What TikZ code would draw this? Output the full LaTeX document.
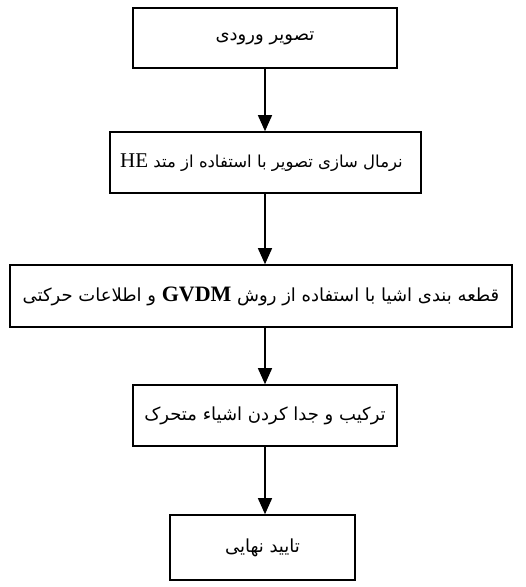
\documentclass[tikz,border=0pt]{standalone}
\usepackage{fontspec}
\usetikzlibrary{arrows.meta}
\TeXXeTstate=1
\newfontfamily\arabicfont[Script=Arabic]{DejaVu Sans}
\newfontfamily\latinfont{Liberation Serif}
\tikzset{
  stepbox/.style={draw=black, line width=1.6pt, rectangle, inner sep=0pt,
    font=\arabicfont\fontsize{18}{21}\selectfont},
  flow/.style={line width=1.3pt, -{Triangle[length=16pt,width=14pt]}}
}
\begin{document}
\begin{tikzpicture}[x=1pt,y=-1pt]
\useasboundingbox (0,0) rectangle (526,587);
\node[stepbox, minimum width=264pt, minimum height=60pt] (b1) at (265,38)
  {\beginR تصویر ورودی\endR};
\node[stepbox, minimum width=311pt, minimum height=61pt] (b2) at (265.5,162.5) {};
\node[font=\arabicfont\fontsize{16.5}{20}\selectfont, inner sep=0pt] (t2) at (261.5,162.5)
  {\beginR نرمال سازی تصویر با استفاده از متد \beginL{\latinfont\fontsize{21}{24}\selectfont HE}\endL\endR};
\node[stepbox, minimum width=502pt, minimum height=62pt] (b3) at (261,296)
  {\beginR قطعه بندی اشیا با استفاده از روش \beginL{\latinfont\bfseries\fontsize{22}{24}\selectfont GVDM}\endL{} و اطلاعات حرکتی\endR};
\node[stepbox, minimum width=264pt, minimum height=61pt] (b4) at (265,415.5)
  {\beginR ترکیب و جدا کردن اشیاء متحرک\endR};
\node[stepbox, minimum width=185pt, minimum height=65pt] (b5) at (262.5,547.5)
  {\beginR تایید نهایی\endR};
\draw[flow] (b1.south) -- (b1.south |- b2.north);
\draw[flow] (b1.south |- b2.south) -- (b1.south |- b3.north);
\draw[flow] (b1.south |- b3.south) -- (b1.south |- b4.north);
\draw[flow] (b4.south) -- (b4.south |- b5.north);
\end{tikzpicture}
\end{document}
